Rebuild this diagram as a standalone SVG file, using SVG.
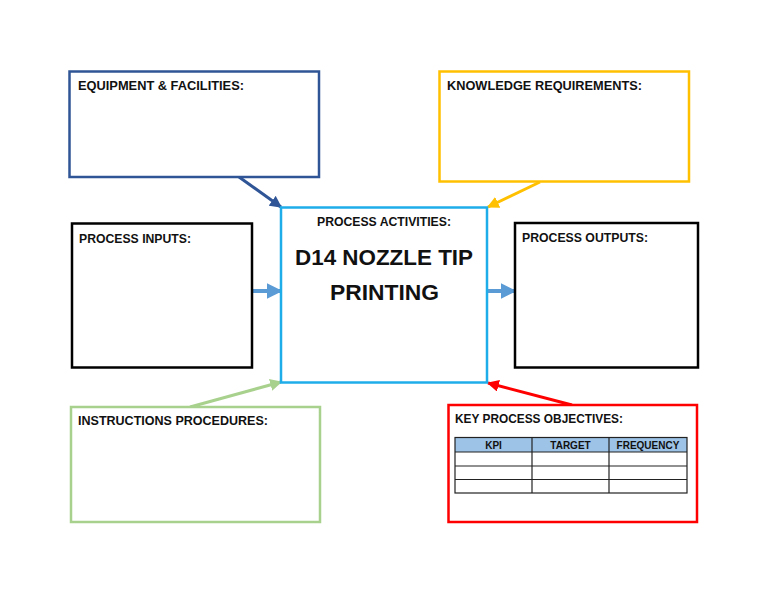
<svg xmlns="http://www.w3.org/2000/svg" width="768" height="594" viewBox="0 0 768 594">
<defs>
<style>
.box{fill:#fff;stroke-width:2.5}
.lbl{font-family:"Liberation Sans",Arial,sans-serif;font-weight:bold;font-size:13px;fill:#111}
.big{font-family:"Liberation Sans",Arial,sans-serif;font-weight:bold;font-size:22px;fill:#111}
.th{font-family:"Liberation Sans",Arial,sans-serif;font-weight:bold;font-size:10px;fill:#111;text-anchor:middle}
.tbl{fill:none;stroke:#222;stroke-width:1.2}
</style>
<marker id="ahBlue" viewBox="0 0 10 10" refX="9" refY="5" markerWidth="4" markerHeight="4" orient="auto" markerUnits="strokeWidth"><path d="M0,0L10,5L0,10z" fill="#5B9BD5"/></marker>
<marker id="ahNavy" viewBox="0 0 10 10" refX="9" refY="5" markerWidth="4" markerHeight="4" orient="auto" markerUnits="strokeWidth"><path d="M0,0L10,5L0,10z" fill="#2F5597"/></marker>
<marker id="ahGold" viewBox="0 0 10 10" refX="9" refY="5" markerWidth="4" markerHeight="4" orient="auto" markerUnits="strokeWidth"><path d="M0,0L10,5L0,10z" fill="#FFC000"/></marker>
<marker id="ahGreen" viewBox="0 0 10 10" refX="9" refY="5" markerWidth="4" markerHeight="4" orient="auto" markerUnits="strokeWidth"><path d="M0,0L10,5L0,10z" fill="#A9D18E"/></marker>
<marker id="ahRed" viewBox="0 0 10 10" refX="9" refY="5" markerWidth="4" markerHeight="4" orient="auto" markerUnits="strokeWidth"><path d="M0,0L10,5L0,10z" fill="#FF0000"/></marker>
</defs>
<rect width="768" height="594" fill="#fff"/>

<g id="connectors" fill="none" stroke-width="3">
<line x1="239" y1="177" x2="281" y2="207" stroke="#2F5597" marker-end="url(#ahNavy)"/>
<line x1="540" y1="182" x2="488" y2="207" stroke="#FFC000" marker-end="url(#ahGold)"/>
<line x1="190" y1="407" x2="281" y2="382" stroke="#A9D18E" marker-end="url(#ahGreen)"/>
<line x1="572" y1="405" x2="488" y2="383" stroke="#FF0000" marker-end="url(#ahRed)"/>
<line x1="253" y1="291" x2="281" y2="291" stroke="#5B9BD5" stroke-width="4" marker-end="url(#ahBlue)"/>
<line x1="488" y1="291" x2="515" y2="291" stroke="#5B9BD5" stroke-width="4" marker-end="url(#ahBlue)"/>
</g>

<g id="equipment">
<rect class="box" x="69.5" y="71.5" width="249.5" height="105.5" stroke="#2F5597"/>
<text class="lbl" x="78" y="89.5" textLength="166" lengthAdjust="spacingAndGlyphs">EQUIPMENT &amp; FACILITIES:</text>
</g>

<g id="knowledge">
<rect class="box" x="439.5" y="71.5" width="249.5" height="110" stroke="#FFC000"/>
<text class="lbl" x="447" y="89.5" textLength="195" lengthAdjust="spacingAndGlyphs">KNOWLEDGE REQUIREMENTS:</text>
</g>

<g id="inputs">
<rect class="box" x="72" y="223.5" width="180" height="144" stroke="#000"/>
<text class="lbl" x="79" y="242.5" textLength="112" lengthAdjust="spacingAndGlyphs">PROCESS INPUTS:</text>
</g>

<g id="activities">
<rect class="box" x="281" y="207.5" width="206" height="175" stroke="#1FADEA"/>
<text class="lbl" x="317" y="226" textLength="134" lengthAdjust="spacingAndGlyphs">PROCESS ACTIVITIES:</text>
<text class="big" x="295" y="265" textLength="178" lengthAdjust="spacingAndGlyphs">D14 NOZZLE TIP</text>
<text class="big" x="330" y="300" textLength="109" lengthAdjust="spacingAndGlyphs">PRINTING</text>
</g>

<g id="outputs">
<rect class="box" x="515" y="223" width="183" height="144.5" stroke="#000"/>
<text class="lbl" x="522" y="241.5" textLength="126" lengthAdjust="spacingAndGlyphs">PROCESS OUTPUTS:</text>
</g>

<g id="instructions">
<rect class="box" x="71" y="407" width="249" height="115" stroke="#A9D18E"/>
<text class="lbl" x="78" y="425" textLength="190" lengthAdjust="spacingAndGlyphs">INSTRUCTIONS PROCEDURES:</text>
</g>

<g id="objectives">
<rect class="box" x="448.5" y="405" width="248.5" height="117" stroke="#FF0000"/>
<text class="lbl" x="455" y="423" textLength="168" lengthAdjust="spacingAndGlyphs">KEY PROCESS OBJECTIVES:</text>
<rect x="455" y="437.5" width="232" height="14.5" fill="#9DC3E6"/>
<rect class="tbl" x="455" y="437.5" width="232" height="55.5"/>
<line class="tbl" x1="455" y1="452" x2="687" y2="452"/>
<line class="tbl" x1="455" y1="466" x2="687" y2="466"/>
<line class="tbl" x1="455" y1="479.5" x2="687" y2="479.5"/>
<line class="tbl" x1="532" y1="437.5" x2="532" y2="493"/>
<line class="tbl" x1="609" y1="437.5" x2="609" y2="493"/>
<text class="th" x="493.5" y="448.5">KPI</text>
<text class="th" x="570.5" y="448.5">TARGET</text>
<text class="th" x="648" y="448.5">FREQUENCY</text>
</g>
</svg>
